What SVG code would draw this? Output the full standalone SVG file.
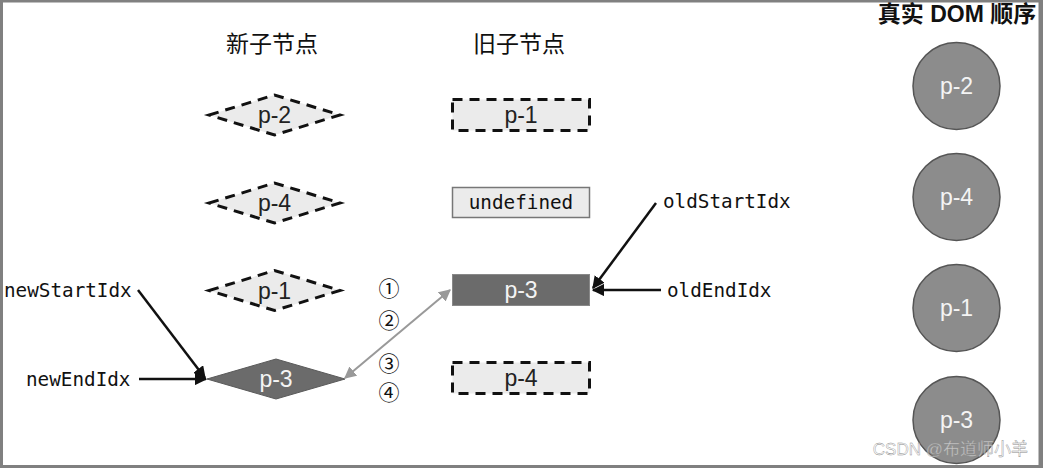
<svg xmlns="http://www.w3.org/2000/svg" width="1043" height="468" viewBox="0 0 1043 468">
<style>
.title{font-family:"Liberation Sans","Noto Sans CJK SC",sans-serif;font-size:23px;fill:#111;text-anchor:middle}
.lbl{font-family:"Liberation Sans",Arial,sans-serif;font-size:23px;text-anchor:middle;dominant-baseline:central}
.dark{fill:#222}
.light{fill:#f4f4f4}
.mono{font-family:"DejaVu Sans Mono","Liberation Mono",monospace;font-size:19.3px;fill:#111}
.dash{fill:#ebebeb;stroke:#111;stroke-width:3;stroke-dasharray:10 7}
.num{font-family:"Noto Sans CJK SC",sans-serif;font-size:21px;fill:#111;text-anchor:middle;dominant-baseline:central}
.circ{fill:#8c8c8c;stroke:#555;stroke-width:1.5}
.blk{stroke:#111;stroke-width:2.5;fill:none;marker-end:url(#ah)}
</style>
<defs>
<marker id="ah" viewBox="0 0 10 10" refX="9" refY="5" markerWidth="5" markerHeight="5" orient="auto" markerUnits="strokeWidth"><path d="M0,0 L10,5 L0,10 z" fill="#111"/></marker>
<marker id="gh" viewBox="0 0 10 10" refX="9" refY="5" markerWidth="6" markerHeight="6" orient="auto-start-reverse" markerUnits="strokeWidth"><path d="M0,0 L10,5 L0,10 z" fill="#999"/></marker>
</defs>
<rect x="0" y="0" width="1043" height="468" fill="#ffffff"/>
<rect x="1.5" y="1" width="1038.5" height="465.5" fill="none" stroke="#808080" stroke-width="3"/>
<rect x="1039" y="0" width="4" height="468" fill="#808080"/>
<rect x="0" y="465" width="1043" height="3" fill="#808080"/>

<text class="title" x="272" y="52">新子节点</text>
<text class="title" x="519" y="52">旧子节点</text>
<text class="title" x="957" y="22" style="font-weight:bold">真实 DOM 顺序</text>

<g id="new-p2"><polygon class="dash" points="209,115 274.5,95 340,115 274.5,135"/><text class="lbl dark" x="274.5" y="115">p-2</text></g>
<g id="new-p4"><polygon class="dash" points="209,203 274.5,183 340,203 274.5,223"/><text class="lbl dark" x="274.5" y="203">p-4</text></g>
<g id="new-p1"><polygon class="dash" points="209,290.5 274.5,270.5 340,290.5 274.5,310.5"/><text class="lbl dark" x="274.5" y="290.5">p-1</text></g>
<g id="new-p3"><polygon points="207,379 276,359 345,379 276,399" fill="#6b6b6b" stroke="#5a5a5a" stroke-width="1"/><text class="lbl light" x="276" y="379">p-3</text></g>

<g id="old-p1"><rect class="dash" x="452.5" y="99.5" width="137" height="31"/><text class="lbl dark" x="521" y="115">p-1</text></g>
<g id="old-undef"><rect x="452.5" y="187.5" width="137" height="30" fill="#ebebeb" stroke="#777" stroke-width="1.5"/><text class="mono" x="521" y="209" text-anchor="middle">undefined</text></g>
<g id="old-p3"><rect x="452.5" y="274.5" width="137" height="31" fill="#6b6b6b" stroke="#888" stroke-width="1"/><text class="lbl light" x="521" y="290">p-3</text></g>
<g id="old-p4"><rect class="dash" x="452.5" y="362.5" width="137" height="31"/><text class="lbl dark" x="521" y="378">p-4</text></g>

<g id="dom-p2"><circle class="circ" cx="956.5" cy="86" r="43.5"/><text class="lbl light" x="956.5" y="86">p-2</text></g>
<g id="dom-p4"><circle class="circ" cx="956.5" cy="197" r="43.5"/><text class="lbl light" x="956.5" y="197">p-4</text></g>
<g id="dom-p1"><circle class="circ" cx="956.5" cy="308" r="43.5"/><text class="lbl light" x="956.5" y="308">p-1</text></g>
<g id="dom-p3"><circle class="circ" cx="956.5" cy="420" r="43.5"/><text class="lbl light" x="956.5" y="420">p-3</text></g>

<g id="labels">
<text class="mono" x="4" y="297">newStartIdx</text>
<text class="mono" x="26" y="386">newEndIdx</text>
<text class="mono" x="663" y="208">oldStartIdx</text>
<text class="mono" x="667" y="297">oldEndIdx</text>
<text class="num" x="389" y="287">①</text>
<text class="num" x="389" y="319">②</text>
<text class="num" x="389" y="362">③</text>
<text class="num" x="389" y="391">④</text>
</g>

<g id="connectors">
<line class="blk" x1="138" y1="290" x2="205" y2="378"/>
<line class="blk" x1="139" y1="379" x2="206" y2="379"/>
<line class="blk" x1="656" y1="203" x2="593" y2="288"/>
<line class="blk" x1="661" y1="290" x2="593" y2="290"/>
<line x1="345" y1="378" x2="450" y2="290" stroke="#999" stroke-width="2" marker-start="url(#gh)" marker-end="url(#gh)"/>
</g>

<text x="1028" y="455" text-anchor="end" style="font-family:'Liberation Sans','Noto Sans CJK SC',sans-serif;font-size:17px;fill:#ffffff;fill-opacity:0.55;stroke:#888;stroke-width:0.4">CSDN @布道师小羊</text>
</svg>
